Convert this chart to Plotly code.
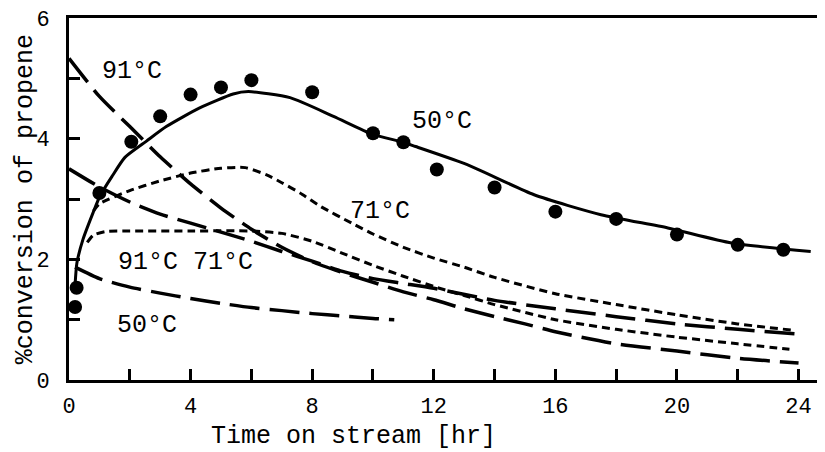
import plotly.graph_objects as go

# ---- data ----
# 50°C measured points
pts50_t = [0.2, 0.25, 1.0, 2.05, 3.0, 4.0, 5.0, 6.0, 8.0, 10.0, 11.0, 12.1, 14.0, 16.0, 18.0, 20.0, 22.0, 23.5]
pts50_y = [1.21, 1.53, 3.10, 3.95, 4.37, 4.73, 4.85, 4.97, 4.77, 4.09, 3.94, 3.49, 3.19, 2.79, 2.67, 2.41, 2.24, 2.16]

# 50°C fitted curve (solid)
fit50_t = [0.2, 0.26, 0.46, 0.79, 1.02, 1.41, 1.84, 2.55, 3.2, 4.3, 5.4, 5.9, 7.27, 8.7, 10.0, 11.0, 11.4, 13.1, 15.3, 17.5, 19.7, 21.8, 24.4]
fit50_y = [1.58, 1.94, 2.33, 2.77, 3.05, 3.37, 3.69, 3.96, 4.20, 4.51, 4.74, 4.78, 4.68, 4.37, 4.07, 3.94, 3.87, 3.57, 3.07, 2.74, 2.52, 2.27, 2.13]

# 91°C upper curve (long dash)
c91a_t = [0, 1, 2, 3, 4, 5, 6, 7, 8, 9, 10, 11, 12, 13, 14, 15, 16, 18, 20, 22, 24]
c91a_y = [5.33, 4.70, 4.20, 3.70, 3.25, 2.85, 2.50, 2.20, 1.96, 1.78, 1.62, 1.46, 1.33, 1.18, 1.05, 0.93, 0.80, 0.60, 0.48, 0.36, 0.28]

# 71°C upper curve (short dash)
c71a_t = [0.8, 1, 2, 3, 4, 5, 5.8, 6.5, 7, 7.6, 8.3, 9.3, 10, 11, 12, 13, 14, 16, 18, 20, 22, 23.9]
c71a_y = [2.80, 2.92, 3.14, 3.30, 3.43, 3.51, 3.52, 3.40, 3.27, 3.10, 2.87, 2.60, 2.42, 2.20, 2.02, 1.87, 1.70, 1.43, 1.25, 1.08, 0.93, 0.82]

# 91°C lower curve (long dash)
c91b_t = [0, 1, 2, 3, 4, 5, 6, 7, 8, 9, 10, 11, 12, 14, 16, 18, 20, 22, 24]
c91b_y = [3.50, 3.20, 2.95, 2.75, 2.60, 2.45, 2.30, 2.13, 1.97, 1.80, 1.68, 1.60, 1.52, 1.32, 1.18, 1.05, 0.93, 0.84, 0.76]

# 71°C lower curve (short dash)
c71b_t = [0.6, 0.8, 1.2, 2, 4, 6, 7, 8, 9, 10, 11, 12, 13, 14, 16, 18, 20, 22, 23.7]
c71b_y = [2.28, 2.40, 2.46, 2.47, 2.47, 2.47, 2.43, 2.30, 2.10, 1.90, 1.72, 1.55, 1.40, 1.25, 1.00, 0.84, 0.71, 0.60, 0.51]

# 50°C lower curve (long dash)
c50b_t = [0.2, 1, 2, 3, 4, 5, 6, 7, 8, 9, 10, 10.7]
c50b_y = [1.87, 1.68, 1.54, 1.44, 1.35, 1.27, 1.20, 1.15, 1.10, 1.06, 1.02, 1.00]

# tick values / labels
x_tickvals = [0, 2, 4, 6, 8, 10, 12, 14, 16, 18, 20, 22, 24]
x_ticktext = ["0", "", "4", "", "8", "", "12", "", "16", "", "20", "", "24"]
y_tickvals = [0, 1, 2, 3, 4, 5, 6]
y_ticktext = ["0", "", "2", "", "4", "", "6"]

# curve labels
lab_text = ["91°C", "50°C", "71°C", "91°C 71°C", "50°C"]
lab_t = [2.07, 12.27, 10.23, 3.82, 2.57]
lab_y = [5.12, 4.29, 2.79, 1.94, 0.90]

FONT = "Liberation Mono"
LONG = "30px,10px"
SHORT = "8px,5px"

fig = go.Figure()
sm = 0.6
fig.add_trace(go.Scatter(x=c91a_t, y=c91a_y, mode="lines",
                         line=dict(color="black", width=3.5, dash=LONG, shape="spline", smoothing=sm)))
fig.add_trace(go.Scatter(x=c91b_t, y=c91b_y, mode="lines",
                         line=dict(color="black", width=3.5, dash=LONG, shape="spline", smoothing=sm)))
fig.add_trace(go.Scatter(x=c50b_t, y=c50b_y, mode="lines",
                         line=dict(color="black", width=3.5, dash=LONG, shape="spline", smoothing=sm)))
fig.add_trace(go.Scatter(x=c71a_t, y=c71a_y, mode="lines",
                         line=dict(color="black", width=3, dash=SHORT, shape="spline", smoothing=sm)))
fig.add_trace(go.Scatter(x=c71b_t, y=c71b_y, mode="lines",
                         line=dict(color="black", width=3, dash=SHORT, shape="spline", smoothing=sm)))
fig.add_trace(go.Scatter(x=fit50_t, y=fit50_y, mode="lines",
                         line=dict(color="black", width=3, shape="spline", smoothing=sm)))
fig.add_trace(go.Scatter(x=pts50_t, y=pts50_y, mode="markers",
                         marker=dict(color="black", size=14), cliponaxis=False))

for txt, tx, ty in zip(lab_text, lab_t, lab_y):
    fig.add_annotation(x=tx, y=ty, xref="x", yref="y", text=txt, showarrow=False,
                       xanchor="center", yanchor="middle",
                       font=dict(family=FONT, size=25, color="black"))

fig.add_annotation(xref="paper", yref="paper", x=0.376, y=-0.157, text="Time on stream [hr]",
                   xanchor="center", yanchor="middle",
                   showarrow=False, font=dict(family=FONT, size=25, color="black"))
fig.add_annotation(xref="paper", yref="paper", x=-0.058, y=0.5, text="%conversion of propene",
                   xanchor="center", yanchor="middle",
                   textangle=-90, showarrow=False, font=dict(family=FONT, size=25, color="black"))

# the page body has an 8px default margin, so shift the figure margins accordingly
fig.update_layout(
    width=825, height=452,
    margin=dict(l=61, r=8, t=10, b=80, autoexpand=False),
    paper_bgcolor="white", plot_bgcolor="white",
    showlegend=False,
    xaxis=dict(range=[0, 24.87], tickvals=x_tickvals, ticktext=x_ticktext, automargin=False,
               ticks="inside", ticklen=11, tickwidth=3, tickcolor="black",
               showline=True, linecolor="black", linewidth=3, mirror=True,
               showgrid=False, zeroline=False, ticklabelstandoff=4,
               ticklabeloverflow="allow",
               tickfont=dict(family=FONT, size=22, color="black")),
    yaxis=dict(range=[0, 6.0], tickvals=y_tickvals, ticktext=y_ticktext, automargin=False,
               ticks="inside", ticklen=11, tickwidth=3, tickcolor="black",
               showline=True, linecolor="black", linewidth=3,
               showgrid=False, zeroline=False, ticklabelstandoff=12,
               ticklabeloverflow="allow",
               tickfont=dict(family=FONT, size=22, color="black")),
)

fig.write_html("out.html")
